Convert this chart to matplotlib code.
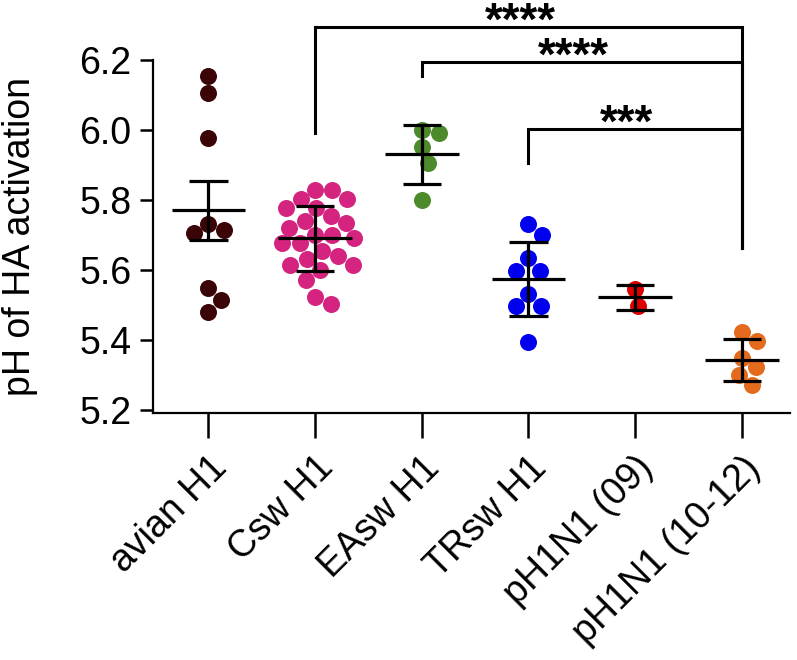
import numpy as np
import matplotlib
matplotlib.use("Agg")
import matplotlib.pyplot as plt

plt.rcParams['font.family'] = ['Liberation Sans', 'DejaVu Sans']

groups = ['avian H1', 'Csw H1', 'EAsw H1', 'TRsw H1', 'pH1N1 (09)', 'pH1N1 (10-12)']
colors = ['#3b0508', '#d4247f', '#4c8a2b', '#0000ee', '#dd0000', '#e46b1e']

avian = [6.154, 6.105, 5.976, 5.731, 5.714, 5.705, 5.548, 5.514, 5.48]
csw = [5.829, 5.829, 5.803, 5.803, 5.778, 5.778, 5.755, 5.74, 5.733, 5.72,
       5.70, 5.70, 5.69, 5.676, 5.676, 5.655, 5.64, 5.63, 5.614, 5.614,
       5.60, 5.571, 5.524, 5.502]
easw = [6.00, 5.99, 5.95, 5.905, 5.80]
trsw = [5.731, 5.70, 5.633, 5.598, 5.598, 5.531, 5.497, 5.497, 5.395]
ph09 = [5.545, 5.497]
ph1012 = [5.422, 5.398, 5.348, 5.322, 5.30, 5.27]
values = [avian, csw, easw, trsw, ph09, ph1012]

# mean and error bar half-length
means = [5.77, 5.69, 5.93, 5.575, 5.522, 5.343]
errs = [0.084, 0.092, 0.085, 0.106, 0.036, 0.059]

# significance brackets: left group, right group, height, left leg end, right leg end, label
brackets = [(1, 5, 6.295, 5.991, 5.663, '****'),
            (2, 5, 6.193, 6.154, 5.663, '****'),
            (3, 5, 6.002, 5.905, 5.663, '***')]


def swarm_x(ax, xc, vals, diam):
    # simple beeswarm in pixel space
    pts = ax.transData.transform(np.column_stack([np.full(len(vals), xc), vals]))
    ys = pts[:, 1]
    steps = np.arange(0.5, 80, 0.5)
    cands = np.concatenate([[0], np.ravel(np.column_stack([steps, -steps]))])
    placed = []
    dxs = np.zeros(len(vals))
    for i in np.argsort(-ys, kind='stable'):
        for dx in cands:
            if all((dx - px) ** 2 + (ys[i] - py) ** 2 >= diam ** 2 for px, py in placed):
                break
        dxs[i] = dx
        placed.append((dx, ys[i]))
    back = ax.transData.inverted().transform(np.column_stack([pts[:, 0] + dxs, ys]))
    return back[:, 0]


fig = plt.figure(figsize=(7.97, 6.6), dpi=100)
ax = fig.add_axes([0.192, 0.3735, 0.799, 0.5356])
ax.set_xlim(-0.52, 5.45)
ax.set_ylim(5.19, 6.2)

dot_px = 17
for i, vals in enumerate(values):
    xs = swarm_x(ax, i, vals, dot_px)
    ax.plot(xs, vals, 'o', color=colors[i], ms=dot_px * 72 / 100,
            mew=0, zorder=2, clip_on=False)
    m, e = means[i], errs[i]
    ax.hlines(m, i - 0.345, i + 0.345, color='black', lw=2.3, zorder=3)
    ax.vlines(i, m - e, m + e, color='black', lw=2.3, zorder=3)
    ax.hlines([m - e, m + e], i - 0.18, i + 0.18, color='black', lw=2.3, zorder=3)

for a, b, h, la, lb, lab in brackets:
    ax.plot([a, a, b, b], [la, h, h, lb], color='black', lw=2.2,
            clip_on=False, solid_joinstyle='miter')
    ax.text((a + b) / 2 - 0.08, h - 0.022, lab, ha='center', va='baseline',
            fontsize=33, fontweight='bold', clip_on=False)

ax.set_yticks([5.2, 5.4, 5.6, 5.8, 6.0, 6.2])
ax.set_yticklabels(['5.2', '5.4', '5.6', '5.8', '6.0', '6.2'])
ax.set_xticks(range(len(groups)))
ax.set_xticklabels(groups, rotation=45, ha='right', va='top', rotation_mode='anchor')

ax.tick_params(axis='y', length=9.5, width=1.8, labelsize=27, pad=6)
ax.tick_params(axis='x', length=18, width=1.8, labelsize=27, pad=8)
ax.set_ylabel('pH of HA activation', fontsize=27)
ax.yaxis.set_label_coords(-0.18, 0.5)

ax.spines['top'].set_visible(False)
ax.spines['right'].set_visible(False)
ax.spines['left'].set_linewidth(1.6)
ax.spines['bottom'].set_linewidth(1.6)

fig.savefig('out.png', dpi=100)
